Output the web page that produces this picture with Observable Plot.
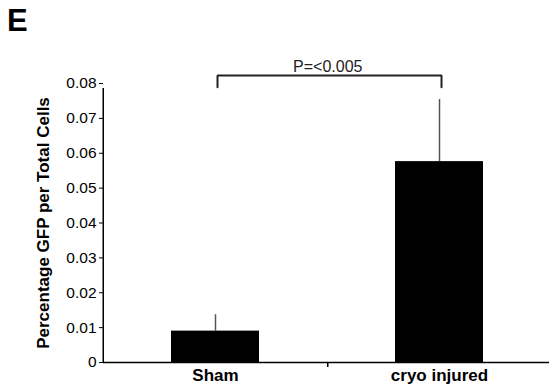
<!DOCTYPE html>
<html>
<head>
<meta charset="utf-8">
<script src="https://cdn.jsdelivr.net/npm/d3@7"></script>
<script src="https://cdn.jsdelivr.net/npm/@observablehq/plot@0.6"></script>
<style>
  html, body { margin: 0; padding: 0; background: #fff; }
  #wrap { position: relative; width: 549px; height: 386px; overflow: hidden; }
  #panel { position: absolute; left: 7px; top: 3px; font: bold 31px "Liberation Sans", Arial, sans-serif; color: #000; }
  svg { font-family: "Liberation Sans", Arial, sans-serif; }
</style>
</head>
<body>
<div id="wrap"><div id="panel">E</div></div>
<script>
const categories = ["Sham", "cryo injured"];
const means = [0.009, 0.0576];
const errors = [0.0047, 0.0178];
const yTicks = [0, 0.01, 0.02, 0.03, 0.04, 0.05, 0.06, 0.07, 0.08];
const yLabel = "Percentage GFP per Total Cells";
const pLabel = "P=<0.005";
const bracketTop = 0.0823;
const bracketEnd = 0.0789;

const data = categories.map((c, i) => ({cat: c, mean: means[i], hi: means[i] + errors[i]}));
const bracket = [
  {cat: categories[0], y: bracketEnd},
  {cat: categories[0], y: bracketTop},
  {cat: categories[1], y: bracketTop},
  {cat: categories[1], y: bracketEnd}
];

const step = (552 - 103) / 2;

const chart = Plot.plot({
  width: 549,
  height: 386,
  marginLeft: 103,
  marginRight: 0,
  marginTop: 83,
  marginBottom: 24,
  x: {type: "band", domain: categories, range: [103, 552], paddingInner: 0.607, paddingOuter: 0.3035},
  y: {domain: [0, 0.08], range: [362, 83]},
  marks: [
    Plot.ruleX(data, {x: "cat", y1: "mean", y2: "hi", stroke: "#555", strokeWidth: 1.5}),
    Plot.barY(data, {x: "cat", y: "mean", fill: "#000"}),
    Plot.line(bracket, {x: "cat", y: "y", dx: 2, stroke: "#222", strokeWidth: 2, strokeLinejoin: "miter"}),
    Plot.text([pLabel], {x: () => categories[0], y: bracketTop, dx: step / 2, dy: -3, lineAnchor: "bottom", text: d => d, fontSize: 16, fill: "#222"}),
    Plot.axisY({ticks: yTicks, tickFormat: d => d === 0 ? "0" : d.toFixed(2), tickSize: 4, tickPadding: 3, fontSize: 15.5, label: null, stroke: "#000"}),
    Plot.text([yLabel], {frameAnchor: "left", dx: -60, rotate: -90, textAnchor: "middle", text: d => d, fontSize: 17, fontWeight: "bold", fill: "#000"}),
    Plot.axisX({tickSize: 0, tickPadding: 6, fontSize: 17, fontWeight: "bold", label: null}),
    Plot.ruleY([0], {stroke: "#000", strokeWidth: 1.5}),
    Plot.ruleX([categories[0]], {y1: 0, y2: 0, insetBottom: -5, dx: step / 2, stroke: "#000", strokeWidth: 1.5}),
    Plot.ruleX([categories[0]], {y1: 0, y2: 0.08, dx: -step / 2, insetBottom: -5, stroke: "#000", strokeWidth: 1.5})
  ]
});
document.getElementById("wrap").appendChild(chart);
</script>
</body>
</html>
